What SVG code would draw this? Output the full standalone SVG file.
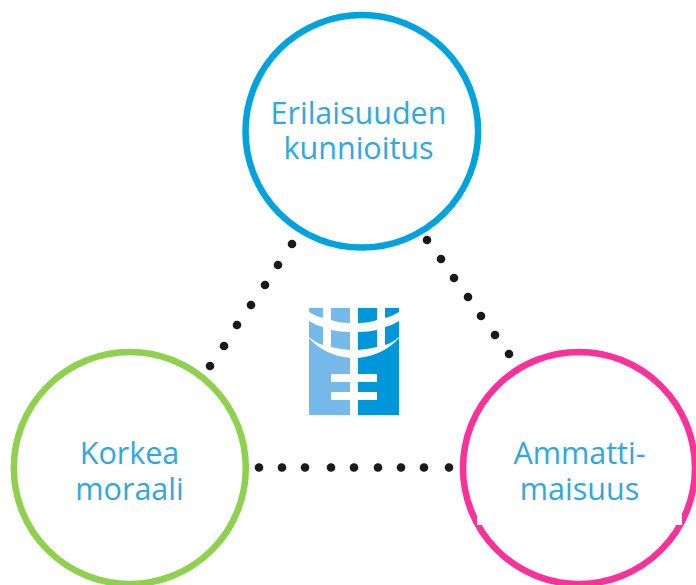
<svg xmlns="http://www.w3.org/2000/svg" width="696" height="585" viewBox="0 0 696 585">
<style>
.ring{fill:#fff;stroke-width:6.500}
.t{font-family:"Open Sans","Noto Sans",sans-serif;font-size:30.500px;font-weight:400;fill:#2fa8e2;text-anchor:middle}
.d{fill:#1a1a1a}
</style>
<rect width="696" height="585" fill="#fff"/>
<g id="connectors" class="d">
<circle cx="292" cy="244" r="4.300"/><circle cx="278" cy="265" r="4.300"/><circle cx="265" cy="285" r="4.300"/><circle cx="251" cy="305" r="4.300"/><circle cx="237" cy="325" r="4.300"/><circle cx="224" cy="346" r="4.300"/><circle cx="210" cy="366" r="4.300"/>
<circle cx="427" cy="240" r="4.300"/><circle cx="441" cy="259" r="4.300"/><circle cx="454" cy="278" r="4.300"/><circle cx="468" cy="297" r="4.300"/><circle cx="481" cy="316" r="4.300"/><circle cx="495" cy="335" r="4.300"/><circle cx="509" cy="354" r="4.300"/>
<circle cx="259" cy="467.500" r="4.300"/><circle cx="282" cy="467.500" r="4.300"/><circle cx="305" cy="467.500" r="4.300"/><circle cx="331" cy="467.500" r="4.300"/><circle cx="354" cy="467.500" r="4.300"/><circle cx="378" cy="467.500" r="4.300"/><circle cx="401" cy="467.500" r="4.300"/><circle cx="424" cy="467.500" r="4.300"/><circle cx="449" cy="467.500" r="4.300"/>
</g>
<g id="node-top"><circle class="ring" cx="361.800" cy="131.300" r="116.300" stroke="#00a3de"/><text class="t" x="358.500" y="123.500">Erilaisuuden</text><text class="t" x="358.500" y="158.500">kunnioitus</text></g>
<g id="node-left"><circle class="ring" cx="129.800" cy="468" r="116" stroke="#8fd14f"/><text class="t" x="129.500" y="463.500">Korkea</text><text class="t" x="129.500" y="499.500">moraali</text></g>
<g id="node-right"><circle class="ring" cx="579" cy="468" r="116" stroke="#f9319b"/><rect x="477" y="500" width="205" height="25" fill="#fff"/><text class="t" x="579.500" y="463.500">Ammatti-</text><text class="t" x="579.500" y="499.500">maisuus</text></g>
<g id="logo">
<path fill="#74b9ea" d="M309 308H323V318Q315 316 309 312ZM331 308H350V323Q339 323 331 320ZM309 321Q315 325 323 327V345Q314 342 309 337ZM331 330Q340 332 350 332V350Q339 349 331 347ZM309 338Q324 355 350 358V374H331V382H350V392H331V400H350V415H309Z"/>
<path fill="#0097da" d="M399 308H385V318Q393 316 399 312ZM377 308H358V323Q369 323 377 320ZM399 321Q393 325 385 327V345Q394 342 399 337ZM377 330Q368 332 358 332V350Q369 349 377 347ZM399 338Q384 355 358 358V374H377V382H358V392H377V400H358V415H399Z"/>
</g>
</svg>
